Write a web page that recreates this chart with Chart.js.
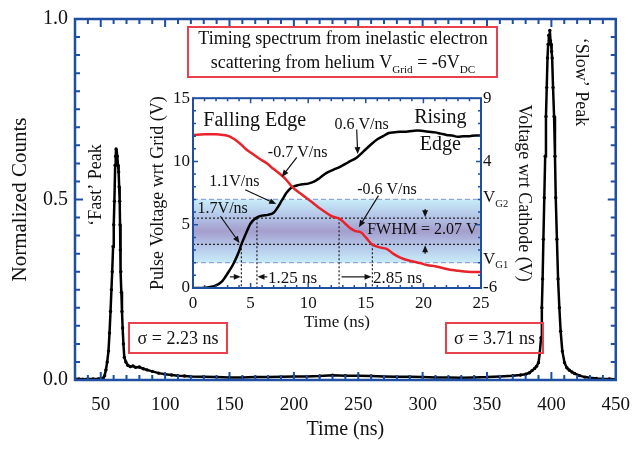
<!DOCTYPE html>
<html>
<head>
<meta charset="utf-8">
<script src="https://cdn.jsdelivr.net/npm/chart.js@4.4.1/dist/chart.umd.min.js"></script>
<style>
  html, body { margin: 0; padding: 0; background: #fff; }
  #wrap { position: relative; width: 644px; height: 449px; }
  #main { position: absolute; left: 0; top: 0; width: 644px; height: 449px; }
  #inset { position: absolute; left: 140px; top: 85px; width: 400px; height: 250px; }
</style>
</head>
<body>
<div id="wrap">
  <canvas id="main" width="644" height="449"></canvas>
  <canvas id="inset" width="400" height="250"></canvas>
</div>
<script>
// ---- main spectrum (time in ns, normalized counts) ----
const mainTime = [
  30, 33, 36, 40, 44, 48, 50, 52, 53, 54,
  55, 56, 56.8, 57.6, 58.3, 58.9, 59.6, 60.1, 60.6, 61.2,
  61.6, 61.9, 62.3, 62.8, 63.4, 63.9, 64.3, 64.7, 65.0, 65.2,
  65.6, 66.0, 66.5, 67.0, 67.6, 68.3, 69.5, 71, 73, 75,
  77, 80, 83, 86, 90, 95, 100, 105, 110, 115,
  120, 130, 140, 150, 160, 170, 180, 190, 200, 210,
  220, 230, 240, 250, 260, 270, 280, 290, 300, 310,
  320, 330, 340, 350, 360, 370, 376, 380, 383, 385,
  387, 388.5, 390, 391, 392, 392.6, 393.2, 393.8, 394.5, 395.2,
  395.8, 396.4, 397.0, 397.5, 398, 398.4, 398.8, 399.3, 399.8, 400.2,
  400.6, 401.3, 402.1, 402.8, 403.4, 404.3, 405.2, 406.2, 407.2, 408.5,
  410.2, 412, 414, 416, 418, 422, 426, 430, 435, 440,
  445, 450
];
const mainCounts = [
  0.003, 0.003, 0.002, 0.003, 0.003, 0.003, 0.004, 0.006, 0.012, 0.028,
  0.05, 0.08, 0.13, 0.19, 0.25, 0.30, 0.37, 0.43, 0.495, 0.595,
  0.62, 0.64, 0.615, 0.62, 0.595, 0.576, 0.535, 0.495, 0.43, 0.36,
  0.30, 0.243, 0.19, 0.144, 0.10, 0.063, 0.05, 0.041, 0.037, 0.039,
  0.035, 0.036, 0.031, 0.028, 0.024, 0.019, 0.016, 0.014, 0.012, 0.011,
  0.010, 0.009, 0.008, 0.007, 0.007, 0.008, 0.008, 0.009, 0.010, 0.010,
  0.011, 0.013, 0.012, 0.012, 0.011, 0.010, 0.009, 0.009, 0.008, 0.007,
  0.007, 0.006, 0.007, 0.008, 0.010, 0.012, 0.014, 0.016, 0.020, 0.026,
  0.032, 0.038, 0.048, 0.075, 0.117, 0.20, 0.28, 0.39, 0.505, 0.62,
  0.73, 0.81, 0.892, 0.93, 0.955, 0.94, 0.968, 0.94, 0.93, 0.91,
  0.892, 0.81, 0.73, 0.62, 0.505, 0.39, 0.28, 0.20, 0.135, 0.08,
  0.048, 0.034, 0.027, 0.022, 0.018, 0.012, 0.008, 0.006, 0.004, 0.003,
  0.003, 0.002
];
const mainXTicks = [50, 100, 150, 200, 250, 300, 350, 400, 450];
const mainYTicks = [0, 0.5, 1.0];

// ---- inset: pulse edges (time in ns, volts wrt grid) ----
const riseTime = [
  0, 0.5, 1, 1.5, 2, 2.5, 3, 3.5, 4, 4.2,
  4.5, 5, 5.5, 6, 6.5, 7, 7.3, 7.7, 8.1, 8.5,
  9, 9.5, 10, 10.5, 11, 11.6, 12.2, 12.8, 13.5, 14.2,
  14.8, 15.4, 16, 16.5, 17, 17.5, 18, 18.5, 19, 19.5,
  20, 20.5, 21, 21.5, 22, 22.5, 23, 23.5, 24, 24.5,
  25
];
const riseVolts = [
  0, 0, 0.02, 0.08, 0.2, 0.5, 1.15, 1.9, 2.9, 3.45,
  4.1, 5.1, 5.55, 5.72, 5.78, 5.95, 6.3, 6.9, 7.5, 7.9,
  8.1, 8.2, 8.25, 8.4, 8.7, 9.1, 9.35, 9.6, 9.95, 10.3,
  10.8, 11.3, 11.75, 12.0, 12.25, 12.3, 12.35, 12.35, 12.4, 12.45,
  12.4, 12.35, 12.3, 12.2, 12.1, 12.05, 11.95, 12.0, 12.0, 12.05,
  12.05
];
const fallTime = [
  0, 1, 2, 2.6, 3.1, 3.6, 4.1, 4.5, 5, 5.8,
  6.4, 7, 7.5, 8, 8.6, 9.3, 10.45, 11, 11.6, 12.1,
  12.5, 12.7, 13.2, 13.6, 14.1, 14.6, 15.0, 15.5, 16.2, 16.8,
  17.4, 18, 18.5, 19.1, 19.7, 20.3, 21.1, 22.3, 23, 23.8,
  24.4, 25
];
const fallVolts = [
  12.1, 12.15, 12.15, 12.1, 12.0, 11.75, 11.4, 11.05, 10.7, 10.2,
  9.85, 9.4, 9.05, 8.65, 8.0, 7.48, 6.7, 6.3, 5.93, 5.65,
  5.54, 5.49, 5.1, 4.76, 4.5, 4.38, 4.0, 3.47, 3.21, 3.1,
  2.7, 2.4, 2.23, 2.1, 1.97, 1.82, 1.7, 1.45, 1.37, 1.29,
  1.27, 1.27
];
const insetXTicks = [0, 5, 10, 15, 20, 25];
const insetYTicks = [0, 5, 10, 15];
const insetY2Ticks = [-6, 4, 9];
const gateWindow = [2, 7];          // V_G1, V_G2
const halfMax = [3.45, 5.52];       // FWHM levels
const riseMarks = [4.2, 5.55];      // 1.25 ns
const fallMarks = [12.68, 15.57];   // 2.85 ns

const SERIF = '"Liberation Serif", "Times New Roman", serif';
const INK = '#111';
const AXIS_BLUE = '#1f4fa0';
const BOX_RED = '#e8404c';

function range(a, b, step) {
  const out = [];
  for (let v = a; v <= b + 1e-9; v += step) out.push(Math.round(v * 1000) / 1000);
  return out;
}
function isMult(v, step) {
  return Math.abs(v / step - Math.round(v / step)) < 1e-6;
}

// inward ticks on four sides + box
function drawFrame(chart, o) {
  const { ctx, chartArea: a } = chart;
  const xs = chart.scales.x, ys = chart.scales.y;
  ctx.save();
  ctx.strokeStyle = AXIS_BLUE;
  ctx.lineWidth = o.tickWidth;
  ctx.beginPath();
  o.xMinor.forEach(v => {
    const p = xs.getPixelForValue(v);
    const len = isMult(v, o.xMajor) ? o.major : o.minor;
    ctx.moveTo(p, a.bottom); ctx.lineTo(p, a.bottom - len);
    ctx.moveTo(p, a.top); ctx.lineTo(p, a.top + len);
  });
  o.yMinor.forEach(v => {
    const p = ys.getPixelForValue(v);
    const len = isMult(v, o.yMajor) ? o.major : o.minor;
    ctx.moveTo(a.left, p); ctx.lineTo(a.left + len, p);
    ctx.moveTo(a.right, p); ctx.lineTo(a.right - len, p);
  });
  ctx.stroke();
  ctx.lineWidth = o.frameWidth;
  ctx.strokeRect(a.left, a.top, a.width, a.height);
  ctx.restore();
}

// text with subscripts; parts = [[text, isSub], ...], y is baseline
function richText(ctx, parts, x, y, size, align) {
  const widths = parts.map(([t, sub]) => {
    ctx.font = (sub ? size * 0.62 : size) + 'px ' + SERIF;
    return ctx.measureText(t).width;
  });
  const total = widths.reduce((s, w) => s + w, 0);
  let cx = align === 'center' ? x - total / 2 : x;
  ctx.textAlign = 'left';
  ctx.textBaseline = 'alphabetic';
  parts.forEach(([t, sub], i) => {
    ctx.font = (sub ? size * 0.62 : size) + 'px ' + SERIF;
    ctx.fillText(t, cx, sub ? y + size * 0.28 : y);
    cx += widths[i];
  });
}

function arrow(ctx, x1, y1, x2, y2, head) {
  const ang = Math.atan2(y2 - y1, x2 - x1);
  ctx.beginPath();
  ctx.moveTo(x1, y1);
  ctx.lineTo(x2 - Math.cos(ang) * head * 0.8, y2 - Math.sin(ang) * head * 0.8);
  ctx.stroke();
  ctx.beginPath();
  ctx.moveTo(x2, y2);
  ctx.lineTo(x2 - head * Math.cos(ang) + head * 0.42 * Math.sin(ang), y2 - head * Math.sin(ang) - head * 0.42 * Math.cos(ang));
  ctx.lineTo(x2 - head * Math.cos(ang) - head * 0.42 * Math.sin(ang), y2 - head * Math.sin(ang) + head * 0.42 * Math.cos(ang));
  ctx.closePath();
  ctx.fill();
}

function rotatedText(ctx, text, x, y, size, angle) {
  ctx.save();
  ctx.translate(x, y);
  ctx.rotate(angle);
  ctx.font = size + 'px ' + SERIF;
  ctx.textAlign = 'center';
  ctx.textBaseline = 'middle';
  ctx.fillText(text, 0, 0);
  ctx.restore();
}

function boxedText(ctx, text, x, y, w, h, size) {
  ctx.save();
  ctx.strokeStyle = BOX_RED;
  ctx.lineWidth = 2;
  ctx.strokeRect(x, y, w, h);
  ctx.fillStyle = INK;
  ctx.font = size + 'px ' + SERIF;
  ctx.textAlign = 'center';
  ctx.textBaseline = 'middle';
  ctx.fillText(text, x + w / 2, y + h / 2 + 1);
  ctx.restore();
}

const mainDecor = {
  id: 'mainDecor',
  afterDraw(chart) {
    const ctx = chart.ctx;
    drawFrame(chart, {
      xMinor: range(40, 440, 10), xMajor: 50,
      yMinor: range(0.05, 0.95, 0.05), yMajor: 0.5,
      major: 8, minor: 5, tickWidth: 2, frameWidth: 2.5
    });
    ctx.save();
    ctx.fillStyle = INK;
    // title box
    ctx.strokeStyle = BOX_RED;
    ctx.lineWidth = 2;
    ctx.strokeRect(188, 27, 309, 50);
    richText(ctx, [['Timing spectrum from inelastic electron', false]], 343, 44, 18, 'center');
    richText(ctx, [['scattering from helium V', false], ['Grid', true], [' = -6V', false], ['DC', true]], 343, 68, 18, 'center');
    rotatedText(ctx, '\u2018Fast\u2019 Peak', 96.5, 185, 18, -Math.PI / 2);
    rotatedText(ctx, '\u2018Slow\u2019 Peak', 581, 82, 18, Math.PI / 2);
    ctx.restore();
    boxedText(ctx, '\u03c3 = 2.23 ns', 129, 323, 98, 30, 18);
    boxedText(ctx, '\u03c3 = 3.71 ns', 446, 323, 97, 30, 18);
  }
};

new Chart(document.getElementById('main'), {
  type: 'line',
  data: {
    datasets: [{
      data: mainTime.map((t, i) => ({ x: t, y: mainCounts[i] })),
      borderColor: '#000',
      borderWidth: 2.5,
      pointRadius: 1.7,
      pointBackgroundColor: '#000',
      pointBorderWidth: 0,
      tension: 0
    }]
  },
  options: {
    responsive: false,
    animation: false,
    devicePixelRatio: 1,
    layout: { padding: { top: 10, right: 17, left: 0, bottom: 0 } },
    plugins: { legend: { display: false }, tooltip: { enabled: false } },
    scales: {
      x: {
        type: 'linear', min: 30, max: 450,
        grid: { display: false, drawTicks: false },
        border: { display: false },
        afterBuildTicks: s => { s.ticks = mainXTicks.map(v => ({ value: v })); },
        afterFit: s => { s.height = 69; },
        ticks: { font: { family: SERIF, size: 19 }, color: INK, padding: 14, maxRotation: 0, autoSkip: false },
        title: { display: true, text: 'Time (ns)', font: { family: SERIF, size: 20 }, color: INK, padding: { top: 0, bottom: 7 } }
      },
      y: {
        type: 'linear', min: 0, max: 1,
        grid: { display: false, drawTicks: false },
        border: { display: false },
        afterBuildTicks: s => { s.ticks = mainYTicks.map(v => ({ value: v })); },
        afterFit: s => { s.width = 75; },
        ticks: { font: { family: SERIF, size: 20 }, color: INK, padding: 7, callback: v => v.toFixed(1) },
        title: { display: true, text: 'Normalized Counts', font: { family: SERIF, size: 21 }, color: INK, padding: { top: 8, bottom: 0 } }
      }
    }
  },
  plugins: [mainDecor]
});

// inset annotations, placed in data units (ns, V)
const insetLabels = [
  { text: 'Falling Edge', t: 0.9, v: 13.2, size: 20, align: 'left' },
  { text: 'Rising', t: 21.47, v: 13.45, size: 20, align: 'center' },
  { text: 'Edge', t: 21.47, v: 11.35, size: 20, align: 'center' },
  { text: '0.6 V/ns', t: 14.63, v: 12.9, size: 16, align: 'center' },
  { text: '-0.7 V/ns', t: 9.08, v: 10.72, size: 16, align: 'center' },
  { text: '1.1V/ns', t: 3.58, v: 8.39, size: 16, align: 'center' },
  { text: '-0.6 V/ns', t: 16.84, v: 7.77, size: 16, align: 'center' },
  { text: '1.7V/ns', t: 2.58, v: 6.22, size: 16, align: 'center' },
  { text: 'FWHM = 2.07 V', t: 19.91, v: 4.6, size: 16, align: 'center' },
  { text: '1.25 ns', t: 6.52, v: 0.75, size: 17, align: 'left' },
  { text: '2.85 ns', t: 15.62, v: 0.75, size: 17, align: 'left' }
];
const insetArrows = [
  [14.21, 12.53, 14.3, 10.59],
  [9.01, 10.33, 7.71, 8.78],
  [4.53, 7.77, 7.22, 6.63],
  [16.1, 7.3, 14.4, 4.8],
  [2.38, 5.67, 4.04, 3.55],
  [20.15, 6.25, 20.15, 5.6],
  [20.15, 2.7, 20.15, 3.37],
  [3.2, 0.88, 4.15, 0.88],
  [6.45, 0.88, 5.6, 0.88],
  [12.9, 0.88, 15.5, 0.88]
];

const insetDecor = {
  id: 'insetDecor',
  beforeDatasetsDraw(chart) {
    const { ctx, chartArea: a } = chart;
    const xs = chart.scales.x, ys = chart.scales.y;
    const yTop = ys.getPixelForValue(gateWindow[1]);
    const yBot = ys.getPixelForValue(gateWindow[0]);
    ctx.save();
    const g = ctx.createLinearGradient(0, yTop, 0, yBot);
    g.addColorStop(0, '#c8ecf9');
    g.addColorStop(0.28, '#b3c3e6');
    g.addColorStop(0.5, '#a49ecd');
    g.addColorStop(0.72, '#b3c3e6');
    g.addColorStop(1, '#c8ecf9');
    ctx.fillStyle = g;
    ctx.fillRect(a.left, yTop, a.width, yBot - yTop);
    // gate window edges
    ctx.strokeStyle = '#8ea4dc';
    ctx.lineWidth = 1.2;
    ctx.setLineDash([5, 3]);
    ctx.beginPath();
    [yTop, yBot].forEach(p => { ctx.moveTo(a.left, p); ctx.lineTo(a.right, p); });
    ctx.stroke();
    // half-max levels and time marks
    ctx.strokeStyle = '#222';
    ctx.setLineDash([2, 2]);
    ctx.beginPath();
    halfMax.forEach(v => { const p = ys.getPixelForValue(v); ctx.moveTo(a.left, p); ctx.lineTo(a.right, p); });
    const marks = [[riseMarks[0], halfMax[0]], [riseMarks[1], halfMax[1]], [fallMarks[0], halfMax[1]], [fallMarks[1], halfMax[0]]];
    marks.forEach(([t, v]) => {
      const px = xs.getPixelForValue(t);
      ctx.moveTo(px, ys.getPixelForValue(v)); ctx.lineTo(px, a.bottom);
    });
    ctx.stroke();
    ctx.restore();
  },
  afterDatasetsDraw(chart) {
    const { ctx, chartArea: a } = chart;
    const xs = chart.scales.x, ys = chart.scales.y;
    drawFrame(chart, {
      xMinor: range(1, 24, 1), xMajor: 5,
      yMinor: range(1, 14, 1), yMajor: 5,
      major: 5, minor: 3, tickWidth: 1.5, frameWidth: 2
    });
    ctx.save();
    ctx.fillStyle = INK;
    ctx.strokeStyle = INK;
    ctx.lineWidth = 1.2;
    insetArrows.forEach(([t1, v1, t2, v2]) => {
      arrow(ctx, xs.getPixelForValue(t1), ys.getPixelForValue(v1), xs.getPixelForValue(t2), ys.getPixelForValue(v2), 7);
    });
    insetLabels.forEach(l => {
      ctx.font = l.size + 'px ' + SERIF;
      ctx.textAlign = l.align;
      ctx.textBaseline = 'middle';
      ctx.fillText(l.text, xs.getPixelForValue(l.t), ys.getPixelForValue(l.v));
    });
    // gate labels on the right axis
    richText(ctx, [['V', false], ['G2', true]], a.right + 2, ys.getPixelForValue(gateWindow[1]) + 3, 17, 'left');
    richText(ctx, [['V', false], ['G1', true]], a.right + 2, ys.getPixelForValue(gateWindow[0]) + 1, 17, 'left');
    ctx.restore();
  }
};

new Chart(document.getElementById('inset'), {
  type: 'line',
  data: {
    datasets: [
      {
        data: fallTime.map((t, i) => ({ x: t, y: fallVolts[i] })),
        borderColor: '#e8232b', borderWidth: 2.5, pointRadius: 0,
        cubicInterpolationMode: 'monotone'
      },
      {
        data: riseTime.map((t, i) => ({ x: t, y: riseVolts[i] })),
        borderColor: '#000', borderWidth: 2.5, pointRadius: 0,
        cubicInterpolationMode: 'monotone'
      }
    ]
  },
  options: {
    responsive: false,
    animation: false,
    devicePixelRatio: 1,
    layout: { padding: { top: 10, right: 0, left: 0, bottom: 0 } },
    plugins: { legend: { display: false }, tooltip: { enabled: false } },
    scales: {
      x: {
        type: 'linear', min: 0, max: 25,
        grid: { display: false, drawTicks: false },
        border: { display: false },
        afterBuildTicks: s => { s.ticks = insetXTicks.map(v => ({ value: v })); },
        afterFit: s => { s.height = 47; },
        ticks: { font: { family: SERIF, size: 17 }, color: INK, padding: 5, maxRotation: 0, autoSkip: false },
        title: { display: true, text: 'Time (ns)', font: { family: SERIF, size: 17 }, color: INK, padding: { top: 0, bottom: 2 } }
      },
      y: {
        type: 'linear', position: 'left', min: 0, max: 15,
        grid: { display: false, drawTicks: false },
        border: { display: false },
        afterBuildTicks: s => { s.ticks = insetYTicks.map(v => ({ value: v })); },
        afterFit: s => { s.width = 53; },
        ticks: { font: { family: SERIF, size: 17 }, color: INK, padding: 3 },
        title: { display: true, text: 'Pulse Voltage wrt Grid (V)', font: { family: SERIF, size: 18 }, color: INK, padding: { top: 7, bottom: 0 } }
      },
      y2: {
        type: 'linear', position: 'right', min: -6, max: 9,
        grid: { display: false, drawTicks: false },
        border: { display: false },
        afterBuildTicks: s => { s.ticks = insetY2Ticks.map(v => ({ value: v })); },
        afterFit: s => { s.width = 59; },
        ticks: { font: { family: SERIF, size: 17 }, color: INK, padding: 2 },
        title: { display: true, text: 'Voltage wrt Cathode (V)', font: { family: SERIF, size: 18 }, color: INK, padding: { top: 5, bottom: 0 } }
      }
    }
  },
  plugins: [insetDecor]
});
</script>
</body>
</html>
